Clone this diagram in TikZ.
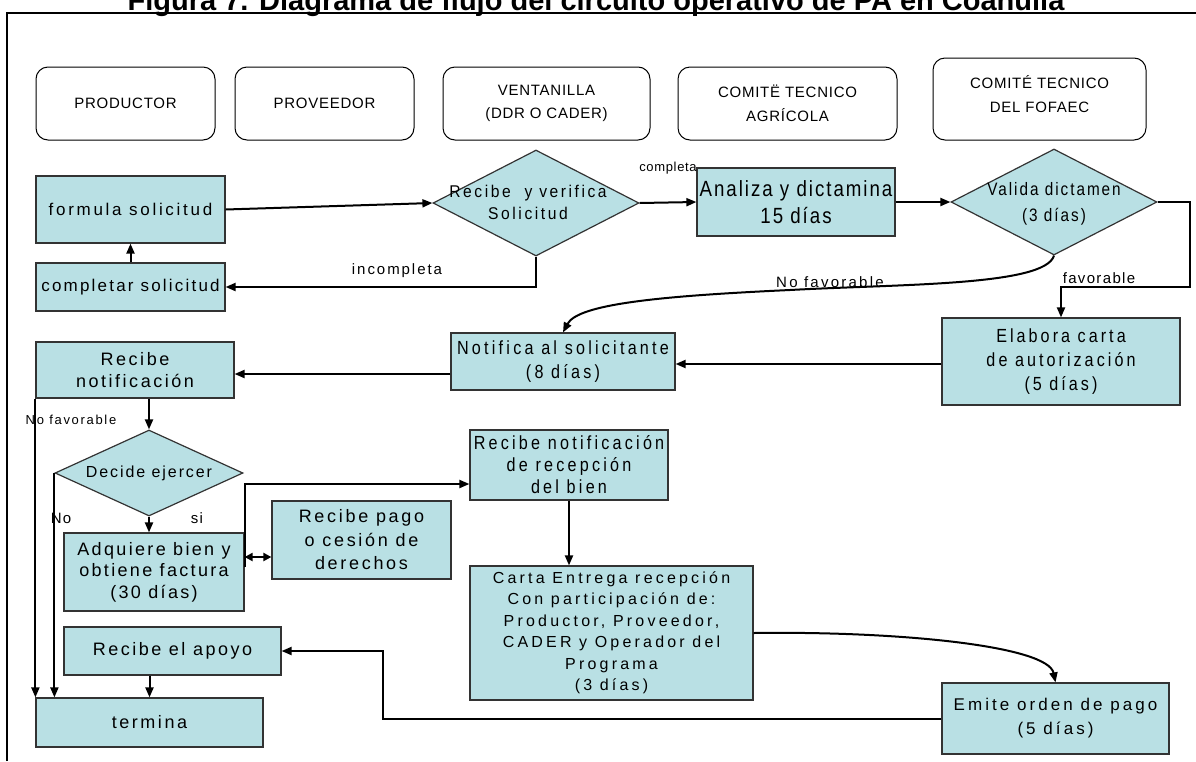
\documentclass[tikz,border=0pt]{standalone}
\usepackage{fontspec}
\setmainfont{Liberation Sans}
\newfontfamily\ftitle{Liberation Sans Bold}
\usetikzlibrary{arrows.meta,shapes.geometric}
\definecolor{boxfill}{RGB}{185,224,228}
\newcommand\ff[4]{\fontsize{#1}{#2}\selectfont\addfontfeatures{LetterSpace=#3,FakeStretch=#4}}
\tikzset{
  proc/.style={draw=black!80, line width=1.2pt, fill=boxfill, align=center, inner sep=0pt},
  hdr/.style={draw=black, line width=1pt, rounded corners=12pt, fill=white, align=center, inner sep=0pt},
  dec/.style={diamond, draw=black!80, line width=1.2pt, fill=boxfill, inner sep=0pt},
  dectext/.style={align=center, inner sep=0pt},
  arr/.style={line width=2pt, -{Triangle[length=10pt,width=8pt]}},
  dbl/.style={line width=2pt, {Triangle[length=8pt,width=8pt]}-{Triangle[length=8pt,width=8pt]}},
  lbl/.style={inner sep=0pt}
}
\begin{document}
\begin{tikzpicture}[x=1pt,y=-1pt]
\useasboundingbox (0,0) rectangle (1196,761);
% frame and title
\draw[line width=2.5pt] (7,761) -- (7,13) -- (1196,13);
\node[anchor=base, inner sep=0pt, font=\ftitle\fontsize{29}{29}\selectfont] (title) at (596,10) {Figura 7. Diagrama de flujo del circuito operativo de PA en Coahuila};
% headers
\node[hdr, minimum width=179pt, minimum height=73pt, font=\ff{15}{23}{5}{1}] (hprod) at (125.5,103.5) {PRODUCTOR};
\node[hdr, minimum width=179pt, minimum height=73pt, font=\ff{15}{23}{5}{1}] (hprov) at (324.5,103.5) {PROVEEDOR};
\node[hdr, minimum width=207pt, minimum height=73pt, font=\ff{15}{23}{5}{1}] (hvent) at (546.5,103.5) {VENTANILLA\\(DDR O CADER)};
\node[hdr, minimum width=219pt, minimum height=73pt, font=\ff{15}{24}{5}{1}] (hcta) at (787.5,103.5) {COMITË TECNICO\\AGRÍCOLA};
\node[hdr, minimum width=213pt, minimum height=82pt, font=\ff{15}{24}{5}{1}] (hfof) at (1039.5,99) {};
\node[dectext, font=\ff{15}{24}{5}{1}] (hfoft) at (1039.5,94) {COMITÉ TECNICO\\DEL FOFAEC};
% process boxes
\node[proc, minimum width=189pt, minimum height=67pt, font=\ff{17}{22}{16}{1}] (formula) at (130.5,209.5) {formula solicitud};
\node[proc, minimum width=189pt, minimum height=48pt, font=\ff{17}{22}{13}{1}] (completar) at (130.5,287) {completar solicitud};
\node[dec, minimum width=206pt, minimum height=106pt] (recv) at (536,203) {};
\node[dectext, font=\ff{17}{22}{15}{0.92}] (recvt) at (528,202) {Recibe \ y verifica\\Solicitud};
\node[proc, minimum width=198pt, minimum height=68pt, font=\ff{22}{27}{9}{0.85}] (analiza) at (796,202) {Analiza y dictamina\\15 días};
\node[dec, minimum width=206pt, minimum height=106pt] (valida) at (1054,202) {};
\node[dectext, font=\ff{18}{26}{11}{0.85}] (validat) at (1054,204) {Valida dictamen\\(3 días)};
\node[proc, minimum width=238pt, minimum height=87pt, font=\ff{19}{24}{16}{0.85}] (elabora) at (1061,361.5) {Elabora carta\\de autorización\\(5 días)};
\node[proc, minimum width=224pt, minimum height=57pt, font=\ff{19}{24}{17}{0.85}] (notifica) at (563,361.5) {Notifica al solicitante\\(8 días)};
\node[proc, minimum width=198pt, minimum height=56pt, font=\ff{18}{22}{14}{1}] (recnot) at (135,370) {Recibe\\notificación};
\node[dec, minimum width=188pt, minimum height=86pt] (decide) at (149,473) {};
\node[dectext, font=\ff{16}{20}{12}{1}] (decidet) at (149,473) {Decide ejercer};
\node[proc, minimum width=180pt, minimum height=78pt, font=\ff{18}{21.5}{13}{1}] (adquiere) at (154,572) {Adquiere bien y\\obtiene factura\\(30 días)};
\node[proc, minimum width=179pt, minimum height=78pt, font=\ff{18}{23.5}{15}{1}] (recpago) at (361.5,540) {Recibe pago\\o cesión de\\derechos};
\node[proc, minimum width=198pt, minimum height=70pt, font=\ff{19}{22}{17}{0.85}] (recnotrec) at (569,465) {Recibe notificación\\de recepción\\del bien};
\node[proc, minimum width=283pt, minimum height=134pt, font=\ff{16}{21.5}{20}{1}] (carta) at (611.5,633) {Carta Entrega recepción\\Con participación de:\\Productor, Proveedor,\\CADER y Operador del\\Programa\\(3 días)};
\node[proc, minimum width=227pt, minimum height=71pt, font=\ff{17}{24}{18}{1}] (emite) at (1055.5,718.5) {Emite orden de pago\\(5 días)};
\node[proc, minimum width=217pt, minimum height=48pt, font=\ff{18}{22}{14}{1}] (apoyo) at (172.5,651) {Recibe el apoyo};
\node[proc, minimum width=227pt, minimum height=49pt, font=\ff{18}{22}{14}{1}] (termina) at (149.5,722.5) {termina};
% connectors
\draw[arr] (completar.north) -- (formula.south);
\draw[arr] (formula.east) -- (recv.west);
\draw[arr] (recv.south) |- (completar.east);
\node[lbl, font=\ff{15}{18}{13}{1}] (lincomp) at (397,271) {incompleta};
\draw[arr] (recv.east) -- (analiza.west);
\node[lbl, font=\ff{13}{16}{5}{1}] (lcomp) at (668,168) {completa};
\draw[arr] (analiza.east) -- (valida.west);
\coordinate (fv1) at (1190,287);
\draw[arr] (valida.east) -| (fv1) -| (elabora.north);
\node[lbl, font=\ff{15}{18}{9}{1}] (lfav) at (1099,278) {favorable};
\draw[arr] (valida.south) .. controls (1045,286) and (900,284) .. (790,290) .. controls (660,296) and (578,304) .. (notifica.north);
\node[lbl, font=\ff{15}{18}{15}{1}] (lnofav) at (830,282) {No favorable};
\coordinate (n0) at ([yshift=-2.5pt]elabora.west);
\draw[arr] (n0) -- (n0 -| notifica.east);
\coordinate (n1) at ([yshift=-12.5pt]notifica.west);
\draw[arr] (n1) -- (n1 -| recnot.east);
\draw[arr] (decide.north |- recnot.south) -- (decide.north);
\draw[arr] (recnot.south west) -- (recnot.south west |- termina.north);
\node[lbl, font=\ff{13}{16}{13}{1}] (lnofav2) at (71,420) {No favorable};
\draw[arr] (decide.west) -- (decide.west |- termina.north);
\node[lbl, font=\ff{15}{18}{8}{1}] (lno) at (61,518) {No};
\draw[arr] (decide.south) -- (decide.south |- adquiere.north);
\node[lbl, font=\ff{15}{18}{8}{1}] (lsi) at (197,518) {si};
\coordinate (q1) at ([yshift=-35pt]adquiere.north east);
\coordinate (q2) at ([yshift=-19pt]recnotrec.west);
\draw[arr] (q1) |- (q2);
\coordinate (d1) at ([yshift=15pt]adquiere.east);
\draw[dbl] (d1) -- (d1 -| recpago.west);
\draw[arr] (recnotrec.south) -- (recnotrec.south |- carta.north);
\draw[arr] (carta.east) .. controls (900,631) and (1048,646) .. (emite.north);
\coordinate (e1) at (383,718.5);
\draw[arr] (emite.west) -- (e1) |- (apoyo.east);
\draw[arr] (termina.north |- apoyo.south) -- (termina.north);
\end{tikzpicture}
\end{document}
